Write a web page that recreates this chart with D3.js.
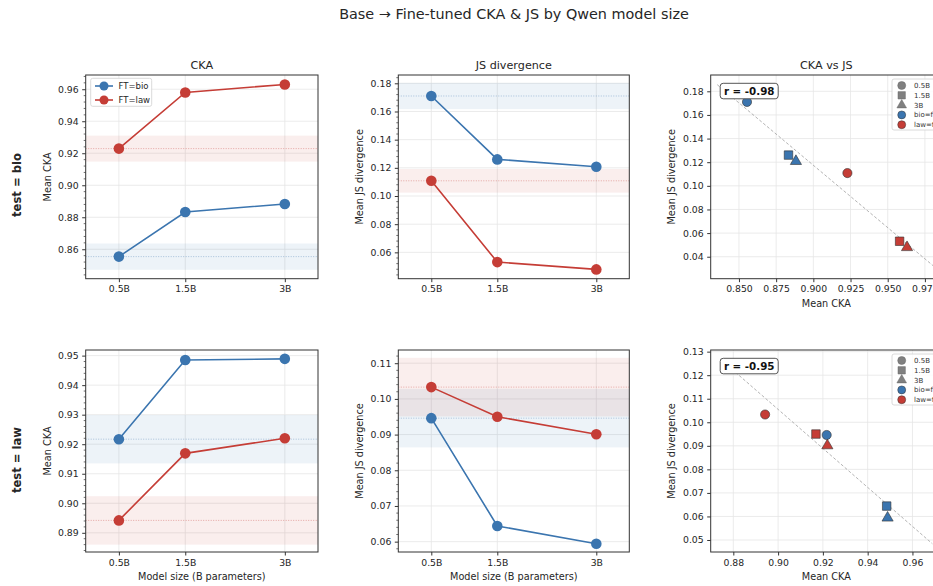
<!DOCTYPE html>
<html>
<head>
<meta charset="utf-8">
<script src="https://cdn.jsdelivr.net/npm/d3@7"></script>
<style>
  body { margin: 0; background: #fff; }
  svg text { font-family: "DejaVu Sans", sans-serif; fill: #262626; }
</style>
</head>
<body>
<div id="g1"></div>
<script>
// model sizes (x axis of the line panels)
var sizes = [0.5, 1.5, 3];
var sizeLabels = ["0.5B", "1.5B", "3B"];

// test = bio
var ckaBioFtBio = [0.8554, 0.8833, 0.8883];
var ckaBioFtLaw = [0.9229, 0.9580, 0.9630];
var jsBioFtBio  = [0.1710, 0.1260, 0.1208];
var jsBioFtLaw  = [0.1108, 0.0531, 0.0479];
// test = law
var ckaLawFtBio = [0.9217, 0.9485, 0.9489];
var ckaLawFtLaw = [0.8942, 0.9169, 0.9220];
var jsLawFtBio  = [0.0946, 0.0644, 0.0594];
var jsLawFtLaw  = [0.1033, 0.0950, 0.0901];

// half width of the shaded baseline band  [FT=bio, FT=law]
var bandCkaBio = [0.0082, 0.0081];
var bandJsBio  = [0.0093, 0.0084];
var bandCkaLaw = [0.0082, 0.0082];
var bandJsLaw  = [0.0082, 0.0082];

// tick values
var ticksCkaBio = [0.86, 0.88, 0.90, 0.92, 0.94, 0.96];
var ticksJsBio  = [0.06, 0.08, 0.10, 0.12, 0.14, 0.16, 0.18];
var ticksCkaLaw = [0.89, 0.90, 0.91, 0.92, 0.93, 0.94, 0.95];
var ticksJsLaw  = [0.06, 0.07, 0.08, 0.09, 0.10, 0.11];
var ticksScBioX = [0.850, 0.875, 0.900, 0.925, 0.950, 0.975];
var ticksScBioY = [0.04, 0.06, 0.08, 0.10, 0.12, 0.14, 0.16, 0.18];
var ticksScLawX = [0.88, 0.90, 0.92, 0.94, 0.96];
var ticksScLawY = [0.05, 0.06, 0.07, 0.08, 0.09, 0.10, 0.11, 0.12, 0.13];

var ftNames = ["FT=bio", "FT=law"];
var scLegend = ["0.5B", "1.5B", "3B", "bio=ft", "law=ft"];

var BLUE = "#3b75af", RED = "#c53d36";
var colors = [BLUE, RED];

var TICK_FS = "9.3px", LABEL_FS = "9.7px", TITLE_FS = "11.2px";

var w = 933, h = 586;
var svg = d3.select("#g1").append("svg").attr("width", w).attr("height", h);

svg.append("text").attr("x", 514).attr("y", 19).attr("text-anchor", "middle")
   .style("font-size", "14.4px").text("Base \u2192 Fine-tuned CKA & JS by Qwen model size");

var cols = [[85.7, 318], [398.3, 629.3], [710.7, 942]];
var rows = [[75, 278.7], [350, 552]];
var clipId = 0;

function frame(c, r) {
  var g = svg.append("g");
  var id = "clip" + (clipId++);
  g.append("clipPath").attr("id", id).append("rect")
   .attr("x", cols[c][0]).attr("y", rows[r][0])
   .attr("width", cols[c][1] - cols[c][0]).attr("height", rows[r][1] - rows[r][0]);
  return {g: g, clip: "url(#" + id + ")"};
}

function grid(g, x, y, xt, yt, c, r) {
  g.selectAll(".gx").data(xt).enter().append("line")
   .attr("x1", d => x(d)).attr("x2", d => x(d))
   .attr("y1", rows[r][0]).attr("y2", rows[r][1])
   .style("stroke", "#e6e6e6").style("stroke-width", 0.8);
  g.selectAll(".gy").data(yt).enter().append("line")
   .attr("y1", d => y(d)).attr("y2", d => y(d))
   .attr("x1", cols[c][0]).attr("x2", cols[c][1])
   .style("stroke", "#e6e6e6").style("stroke-width", 0.8);
}

function axes(g, x, y, xt, yt, c, r, xfmt, yfmt, minorStep) {
  var xa = g.append("g").attr("transform", "translate(0," + rows[r][1] + ")")
    .call(d3.axisBottom(x).tickValues(xt).tickFormat(xfmt).tickSize(3.5).tickPadding(3.5));
  var ya = g.append("g").attr("transform", "translate(" + cols[c][0] + ",0)")
    .call(d3.axisLeft(y).tickValues(yt).tickFormat(yfmt).tickSize(3.5).tickPadding(3.5));
  [xa, ya].forEach(function(a) {
    a.select(".domain").remove();
    a.selectAll("line").style("stroke", "#333");
    a.selectAll("text").style("font-size", TICK_FS).style("fill", "#262626")
     .style("font-family", "DejaVu Sans, sans-serif");
  });
  if (minorStep) {
    var dom = y.domain();
    var minor = d3.range(Math.ceil(dom[0] / minorStep) * minorStep, dom[1], minorStep)
      .filter(v => yt.every(t => Math.abs(t - v) > minorStep / 3));
    g.selectAll(".mn").data(minor).enter().append("line")
     .attr("x1", cols[c][0] - 2).attr("x2", cols[c][0])
     .attr("y1", d => y(d)).attr("y2", d => y(d))
     .style("stroke", "#333").style("stroke-width", 0.7);
  }
  g.append("rect").attr("x", cols[c][0]).attr("y", rows[r][0])
   .attr("width", cols[c][1] - cols[c][0]).attr("height", rows[r][1] - rows[r][0])
   .style("fill", "none").style("stroke", "#333").style("stroke-width", 1);
}

function linePanel(c, r, series, bands, ydom, yt, title, ylab) {
  var f = frame(c, r), g = f.g;
  var x = d3.scaleLinear().domain([0, 3.5]).range(cols[c]);
  var y = d3.scaleLinear().domain(ydom).range([rows[r][1], rows[r][0]]);
  grid(g, x, y, sizes, yt, c, r);
  var inner = g.append("g").attr("clip-path", f.clip);
  series.forEach(function(s, i) {
    inner.append("rect").attr("x", cols[c][0]).attr("width", cols[c][1] - cols[c][0])
      .attr("y", y(s[0] + bands[i])).attr("height", y(s[0] - bands[i]) - y(s[0] + bands[i]))
      .style("fill", colors[i]).style("fill-opacity", 0.09);
    inner.append("line").attr("x1", cols[c][0]).attr("x2", cols[c][1])
      .attr("y1", y(s[0])).attr("y2", y(s[0]))
      .style("stroke", colors[i]).style("stroke-opacity", 0.5)
      .style("stroke-width", 0.8).style("stroke-dasharray", "1,1.5");
  });
  series.forEach(function(s, i) {
    var pts = s.map((v, k) => [sizes[k], v]);
    inner.append("path").datum(pts)
      .attr("d", d3.line().x(d => x(d[0])).y(d => y(d[1])))
      .style("fill", "none").style("stroke", colors[i]).style("stroke-width", 1.6);
    inner.selectAll(".pt" + i).data(pts).enter().append("circle")
      .attr("cx", d => x(d[0])).attr("cy", d => y(d[1])).attr("r", 5.3)
      .style("fill", colors[i]);
  });
  axes(g, x, y, sizes, yt, c, r, (d, k) => sizeLabels[k], d3.format(".2f"), (yt[1] - yt[0]) / 5);
  var cx = (cols[c][0] + cols[c][1]) / 2;
  if (title) g.append("text").attr("x", cx).attr("y", rows[r][0] - 6).attr("text-anchor", "middle")
    .style("font-size", TITLE_FS).text(title);
  g.append("text").attr("transform", "translate(" + (cols[c][0] - 35) + "," + ((rows[r][0] + rows[r][1]) / 2) + ") rotate(-90)")
    .attr("text-anchor", "middle").style("font-size", LABEL_FS).text(ylab);
  if (r === 1) g.append("text").attr("x", cx).attr("y", rows[r][1] + 28).attr("text-anchor", "middle")
    .style("font-size", LABEL_FS).text("Model size (B parameters)");
  return g;
}

var markers = [d3.symbolCircle, d3.symbolSquare, d3.symbolTriangle];
var markerSize = [66, 72, 54];

function scatterPanel(c, r, cka, js, xdom, ydom, xt, yt, xfmt, title) {
  var f = frame(c, r), g = f.g;
  var x = d3.scaleLinear().domain(xdom).range(cols[c]);
  var y = d3.scaleLinear().domain(ydom).range([rows[r][1], rows[r][0]]);
  grid(g, x, y, xt, yt, c, r);
  var inner = g.append("g").attr("clip-path", f.clip);
  var pts = [];
  cka.forEach((s, i) => s.forEach((v, k) => pts.push({x: v, y: js[i][k], ft: i, size: k})));
  // least squares fit and Pearson r
  var mx = d3.mean(pts, d => d.x), my = d3.mean(pts, d => d.y);
  var sxy = d3.sum(pts, d => (d.x - mx) * (d.y - my));
  var sxx = d3.sum(pts, d => (d.x - mx) * (d.x - mx));
  var syy = d3.sum(pts, d => (d.y - my) * (d.y - my));
  var slope = sxy / sxx, icpt = my - slope * mx, rr = sxy / Math.sqrt(sxx * syy);
  var ext = d3.extent(pts, d => d.x);
  var x0 = ext[0] - 0.02, x1 = ext[1] + 0.02;
  inner.append("line").attr("x1", x(x0)).attr("y1", y(icpt + slope * x0))
    .attr("x2", x(x1)).attr("y2", y(icpt + slope * x1))
    .style("stroke", "#aaa").style("stroke-width", 0.9).style("stroke-dasharray", "3,2");
  inner.selectAll(".sp").data(pts).enter().append("path")
    .attr("transform", d => "translate(" + x(d.x) + "," + y(d.y) + ")")
    .attr("d", d => d3.symbol().type(markers[d.size]).size(markerSize[d.size])())
    .style("fill", d => colors[d.ft]).style("stroke", "#333").style("stroke-width", 0.6);
  // r label
  var bx = cols[c][0] + 9.5, by = rows[r][0] + 8.3;
  var label = "r = " + d3.format(".2f")(rr).replace("\u2212", "-");
  g.append("rect").attr("x", bx).attr("y", by).attr("width", 58).attr("height", 15.5)
    .attr("rx", 3).style("fill", "#fff").style("stroke", "#555").style("stroke-width", 1);
  g.append("text").attr("x", bx + 29).attr("y", by + 11.6).attr("text-anchor", "middle")
    .style("font-size", "10.3px").style("font-weight", "bold").style("fill", "#111")
    .text(label);
  // legend
  var lx = 892, ly = rows[r][0] + 4;
  var lg = g.append("g");
  lg.append("rect").attr("x", lx).attr("y", ly).attr("width", 60).attr("height", 51)
    .attr("rx", 2).style("fill", "#fff").style("fill-opacity", 0.85).style("stroke", "#d0d0d0").style("stroke-width", 0.8);
  scLegend.forEach(function(t, i) {
    var yy = ly + 6.5 + i * 9.8;
    var sym = i < 3 ? markers[i] : d3.symbolCircle;
    var fill = i < 3 ? "#808080" : colors[i - 3];
    lg.append("path").attr("transform", "translate(" + (lx + 9.7) + "," + yy + ")")
      .attr("d", d3.symbol().type(sym).size(i < 3 ? [50, 54, 40][i] : 50)())
      .style("fill", fill).style("stroke", i < 3 ? "#666" : "#333").style("stroke-width", 0.5);
    lg.append("text").attr("x", lx + 22).attr("y", yy + 2.5).style("font-size", "7px").style("fill", "#333").text(t);
  });
  axes(g, x, y, xt, yt, c, r, xfmt, d3.format(".2f"), null);
  var cx = (cols[c][0] + cols[c][1]) / 2;
  if (title) g.append("text").attr("x", cx).attr("y", rows[r][0] - 6).attr("text-anchor", "middle")
    .style("font-size", TITLE_FS).text(title);
  g.append("text").attr("transform", "translate(" + (cols[c][0] - 36) + "," + ((rows[r][0] + rows[r][1]) / 2) + ") rotate(-90)")
    .attr("text-anchor", "middle").style("font-size", LABEL_FS).text("Mean JS divergence");
  g.append("text").attr("x", cx).attr("y", rows[r][1] + 28).attr("text-anchor", "middle")
    .style("font-size", LABEL_FS).text("Mean CKA");
}

linePanel(0, 0, [ckaBioFtBio, ckaBioFtLaw], bandCkaBio, [0.8416, 0.9689], ticksCkaBio, "CKA", "Mean CKA");
linePanel(1, 0, [jsBioFtBio, jsBioFtLaw], bandJsBio, [0.0413, 0.1859], ticksJsBio, "JS divergence", "Mean JS divergence");
scatterPanel(2, 0, [ckaBioFtBio, ckaBioFtLaw], [jsBioFtBio, jsBioFtLaw], [0.831, 0.9865], [0.0214, 0.1938],
             ticksScBioX, ticksScBioY, d3.format(".3f"), "CKA vs JS");
linePanel(0, 1, [ckaLawFtBio, ckaLawFtLaw], bandCkaLaw, [0.8835, 0.9519], ticksCkaLaw, null, "Mean CKA");
linePanel(1, 1, [jsLawFtBio, jsLawFtLaw], bandJsLaw, [0.0571, 0.1137], ticksJsLaw, null, "Mean JS divergence");
scatterPanel(2, 1, [ckaLawFtBio, ckaLawFtLaw], [jsLawFtBio, jsLawFtLaw], [0.8699, 0.9732], [0.0449, 0.1307],
             ticksScLawX, ticksScLawY, d3.format(".2f"), null);

// legend of the first panel
var leg = svg.append("g");
leg.append("rect").attr("x", 90.7).attr("y", 78.3).attr("width", 61).attr("height", 28)
   .attr("rx", 2).style("fill", "#fff").style("fill-opacity", 0.85).style("stroke", "#d0d0d0").style("stroke-width", 0.8);
ftNames.forEach(function(t, i) {
  var yy = 86 + i * 14;
  leg.append("line").attr("x1", 95).attr("x2", 113).attr("y1", yy).attr("y2", yy)
     .style("stroke", colors[i]).style("stroke-width", 1.6);
  leg.append("circle").attr("cx", 104).attr("cy", yy).attr("r", 4.5).style("fill", colors[i]);
  leg.append("text").attr("x", 118.5).attr("y", yy + 3).style("font-size", "8.5px").text(t);
});

// row labels
[["test = bio", 185], ["test = law", 460]].forEach(function(d) {
  svg.append("text").attr("transform", "translate(21," + d[1] + ") rotate(-90)")
     .attr("text-anchor", "middle").style("font-size", "11.6px").style("font-weight", "bold").text(d[0]);
});
</script>
</body>
</html>
